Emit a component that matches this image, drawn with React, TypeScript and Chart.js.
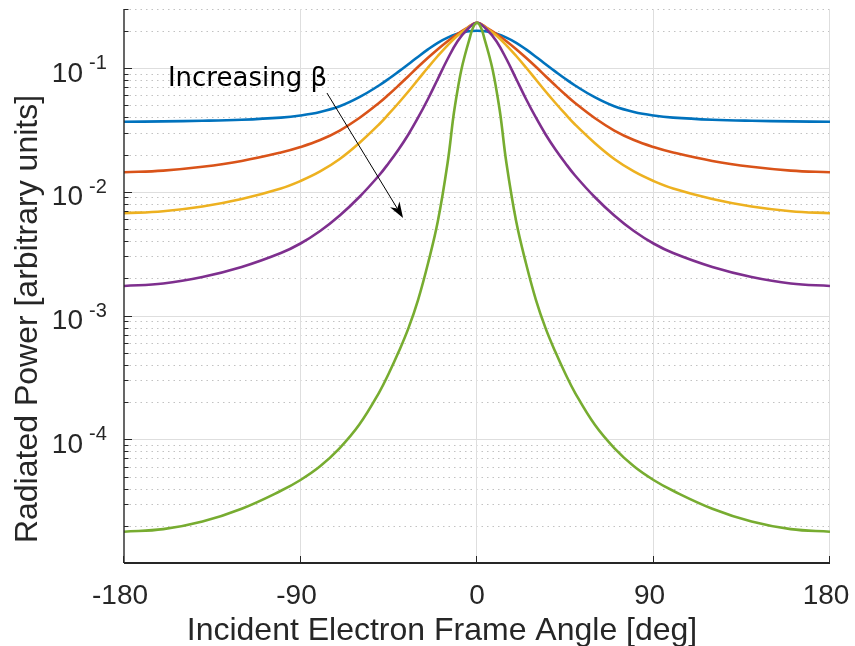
import { useEffect, useRef } from 'react';
import { Chart, registerables } from 'chart.js';

Chart.register(...registerables);

// Incident electron frame angle samples [deg]
const angles = [
  -180, -160, -140, -120, -100, -90, -80, -70, -60, -50, -45, -40, -35, -30, -25, -20, -15, -10, -5,
  0,
  5, 10, 15, 20, 25, 30, 35, 40, 45, 50, 60, 70, 80, 90, 100, 120, 140, 160, 180,
];
// the narrowest curve needs finer sampling around 0
const anglesFine = [
  -180, -160, -140, -120, -100, -90, -80, -70, -60, -50, -45, -40, -35, -30, -25, -20, -15, -12, -10, -8, -6, -4, -2,
  0,
  2, 4, 6, 8, 10, 12, 15, 20, 25, 30, 35, 40, 45, 50, 60, 70, 80, 90, 100, 120, 140, 160, 180,
];

// Radiated power [arbitrary units], one series per beta value (increasing beta)
const powerBeta1 = [
  0.03683, 0.03704, 0.03746, 0.03823, 0.03976, 0.04134, 0.04412, 0.04906, 0.0581, 0.07225, 0.08185, 0.09359, 0.1074, 0.1235, 0.1414, 0.16, 0.1762, 0.1891, 0.1978,
  0.2004,
  0.1978, 0.1891, 0.1762, 0.16, 0.1414, 0.1235, 0.1074, 0.09359, 0.08185, 0.07225, 0.0581, 0.04906, 0.04412, 0.04134, 0.03976, 0.03823, 0.03746, 0.03704, 0.03683,
];
const powerBeta2 = [
  0.01437, 0.01483, 0.01592, 0.01773, 0.02076, 0.02301, 0.02621, 0.03127, 0.03946, 0.05218, 0.06111, 0.07225, 0.08592, 0.1023, 0.121, 0.142, 0.1648, 0.1884, 0.2115,
  0.2325,
  0.2115, 0.1884, 0.1648, 0.142, 0.121, 0.1023, 0.08592, 0.07225, 0.06111, 0.05218, 0.03946, 0.03127, 0.02621, 0.02301, 0.02076, 0.01773, 0.01592, 0.01483, 0.01437,
];
const powerBeta3 = [
  0.006699, 0.006966, 0.007603, 0.008744, 0.01063, 0.01222, 0.01459, 0.0184, 0.02479, 0.03498, 0.04252, 0.05218, 0.06463, 0.0808, 0.101, 0.1251, 0.1527, 0.1822, 0.2095,
  0.2325,
  0.2095, 0.1822, 0.1527, 0.1251, 0.101, 0.0808, 0.06463, 0.05218, 0.04252, 0.03498, 0.02479, 0.0184, 0.01459, 0.01222, 0.01063, 0.008744, 0.007603, 0.006966, 0.006699,
];
const powerBeta4 = [
  0.001732, 0.001814, 0.002048, 0.002467, 0.003199, 0.00382, 0.004819, 0.006432, 0.009074, 0.01354, 0.01708, 0.02196, 0.02904, 0.03984, 0.05621, 0.08155, 0.1183, 0.1639, 0.2049,
  0.2325,
  0.2049, 0.1639, 0.1183, 0.08155, 0.05621, 0.03984, 0.02904, 0.02196, 0.01708, 0.01354, 0.009074, 0.006432, 0.004819, 0.00382, 0.003199, 0.002467, 0.002048, 0.001814, 0.001732,
];
const powerBeta5 = [
  1.79e-5, 1.879e-5, 2.165e-5, 2.747e-5, 3.833e-5, 4.686e-5, 6.045e-5, 8.484e-5, 1.314e-4, 2.374e-4, 3.399e-4, 5.064e-4, 7.866e-4, 1.347e-3, 2.633e-3, 5.741e-3, 0.01708, 0.04096, 0.06524, 0.09643, 0.1299, 0.1684, 0.2127,
  0.2325,
  0.2127, 0.1684, 0.1299, 0.09643, 0.06524, 0.04096, 0.01708, 5.741e-3, 2.633e-3, 1.347e-3, 7.866e-4, 5.064e-4, 3.399e-4, 2.374e-4, 1.314e-4, 8.484e-5, 6.045e-5, 4.686e-5, 3.833e-5, 2.747e-5, 2.165e-5, 1.879e-5, 1.79e-5,
];

const seriesColors = ['#0072BD', '#D95319', '#EDB120', '#7E2F8E', '#77AC30'];

const xTicks = [-180, -90, 0, 90, 180];
const xTickLabels = ['-180', '-90', '0', '90', '180'];
const yDecades = [-1, -2, -3, -4];

const xTitle = 'Incident Electron Frame Angle [deg]';
const yTitle = 'Radiated Power [arbitrary units]';
const noteText = 'Increasing β';
// note anchor and arrow ends in data units [deg, power]
const notePos = [-157.6, 0.0719];
const arrowFrom = [-76.5, 0.0628];
const arrowTo = [-37.7, 0.00614];

const Y_MIN = 1e-5;
const Y_MAX = 0.3;

const AXIS_COLOR = '#262626';
const TICK_FONT = '"Liberation Sans", Arial, Helvetica, sans-serif';

const axesPlugin = {
  id: 'matlabAxes',
  beforeDatasetsDraw(chart: any) {
    const { ctx, chartArea: a, scales } = chart;
    const x = scales.x;
    const y = scales.y;
    ctx.save();
    // minor dotted grid lines (log decades)
    ctx.strokeStyle = '#c2c2c2';
    ctx.lineWidth = 1;
    ctx.setLineDash([1.5, 4]);
    for (let e = -5; e <= -1; e++) {
      for (let k = 2; k <= 9; k++) {
        const v = k * Math.pow(10, e);
        if (v > Y_MAX * 1.0001) continue;
        const py = Math.round(y.getPixelForValue(v)) + 0.5;
        ctx.beginPath();
        ctx.moveTo(a.left, py);
        ctx.lineTo(a.right, py);
        ctx.stroke();
      }
    }
    // major solid grid lines
    ctx.setLineDash([]);
    ctx.strokeStyle = '#dedede';
    for (const e of yDecades) {
      const py = Math.round(y.getPixelForValue(Math.pow(10, e))) + 0.5;
      ctx.beginPath();
      ctx.moveTo(a.left, py);
      ctx.lineTo(a.right, py);
      ctx.stroke();
    }
    for (const t of xTicks) {
      if (t === xTicks[0]) continue;
      const px = Math.round(x.getPixelForValue(t)) - 0.5;
      ctx.beginPath();
      ctx.moveTo(px, a.top);
      ctx.lineTo(px, a.bottom);
      ctx.stroke();
    }
    ctx.restore();
  },
  afterDatasetsDraw(chart: any) {
    const { ctx, chartArea: a, scales } = chart;
    const x = scales.x;
    const y = scales.y;
    ctx.save();
    ctx.strokeStyle = AXIS_COLOR;
    ctx.fillStyle = AXIS_COLOR;

    // left and bottom axis lines
    ctx.lineWidth = 1.4;
    ctx.beginPath();
    ctx.moveTo(a.left, a.top);
    ctx.lineTo(a.left, a.bottom);
    ctx.stroke();
    ctx.lineWidth = 2;
    ctx.beginPath();
    ctx.moveTo(a.left, a.bottom);
    ctx.lineTo(a.right, a.bottom);
    ctx.stroke();

    // y ticks: major and minor, pointing inward
    ctx.lineWidth = 1;
    for (let e = -5; e <= -1; e++) {
      for (let k = 1; k <= 9; k++) {
        const v = k * Math.pow(10, e);
        if (v > Y_MAX * 1.0001) continue;
        const py = Math.round(y.getPixelForValue(v)) + 0.5;
        const len = k === 1 ? 8 : 4.5;
        ctx.beginPath();
        ctx.moveTo(a.left, py);
        ctx.lineTo(a.left + len, py);
        ctx.stroke();
      }
    }
    // x ticks
    for (const t of xTicks) {
      const px = Math.round(x.getPixelForValue(t)) - 0.5;
      ctx.beginPath();
      ctx.moveTo(px, a.bottom);
      ctx.lineTo(px, a.bottom - 7);
      ctx.stroke();
    }

    // y tick labels 10^e
    ctx.textBaseline = 'alphabetic';
    for (const e of yDecades) {
      const py = y.getPixelForValue(Math.pow(10, e));
      ctx.textAlign = 'right';
      ctx.font = `28px ${TICK_FONT}`;
      ctx.fillText('10', 83, py + 13.5);
      ctx.textAlign = 'left';
      ctx.font = `20px ${TICK_FONT}`;
      ctx.fillText(String(e), 89, py + 1);
    }

    // x tick labels
    ctx.textAlign = 'center';
    ctx.font = `28px ${TICK_FONT}`;
    xTicks.forEach((t, i) => {
      const shift = t === 0 ? 0 : -4;
      ctx.fillText(xTickLabels[i], x.getPixelForValue(t) + shift, 603.5);
    });

    // axis titles
    ctx.font = `32px ${TICK_FONT}`;
    ctx.fillText(xTitle, 442, 640);
    ctx.save();
    ctx.translate(37, 319);
    ctx.rotate(-Math.PI / 2);
    ctx.fillText(yTitle, 0, 0);
    ctx.restore();

    // annotation text and arrow
    ctx.fillStyle = '#000';
    ctx.strokeStyle = '#000';
    ctx.textAlign = 'left';
    ctx.font = '26px "DejaVu Sans", sans-serif';
    ctx.fillText(noteText, x.getPixelForValue(notePos[0]), y.getPixelForValue(notePos[1]));

    const sx = x.getPixelForValue(arrowFrom[0]);
    const sy = y.getPixelForValue(arrowFrom[1]);
    const tx = x.getPixelForValue(arrowTo[0]);
    const ty = y.getPixelForValue(arrowTo[1]);
    const ang = Math.atan2(ty - sy, tx - sx);
    const dx = Math.cos(ang);
    const dy = Math.sin(ang);
    const headLen = 16;
    const headW = 5.5;
    const notch = 11;
    ctx.lineWidth = 1;
    ctx.beginPath();
    ctx.moveTo(sx, sy);
    ctx.lineTo(tx - notch * dx, ty - notch * dy);
    ctx.stroke();
    ctx.beginPath();
    ctx.moveTo(tx, ty);
    ctx.lineTo(tx - headLen * dx - headW * dy, ty - headLen * dy + headW * dx);
    ctx.lineTo(tx - notch * dx, ty - notch * dy);
    ctx.lineTo(tx - headLen * dx + headW * dy, ty - headLen * dy - headW * dx);
    ctx.closePath();
    ctx.fill();

    ctx.restore();
  },
};

export default function App() {
  const canvasRef = useRef<HTMLCanvasElement | null>(null);

  useEffect(() => {
    const canvas = canvasRef.current;
    if (!canvas) return;
    const series = [powerBeta1, powerBeta2, powerBeta3, powerBeta4, powerBeta5];
    const datasets = series.map((vals, i) => {
      const xs = vals.length === anglesFine.length ? anglesFine : angles;
      return {
        label: `beta ${i + 1}`,
        data: xs.map((a, j) => ({ x: a, y: vals[j] })),
        borderColor: seriesColors[i],
        backgroundColor: seriesColors[i],
        borderWidth: 2.6,
        pointRadius: 0,
        fill: false,
        tension: 0.4,
        order: series.length - i,
      };
    });
    const chart = new Chart(canvas, {
      type: 'line',
      data: { datasets },
      options: {
        responsive: false,
        animation: false,
        layout: { padding: { left: 124, right: 25, top: 9, bottom: 83 } },
        plugins: {
          legend: { display: false },
          tooltip: { enabled: false },
        },
        scales: {
          x: { type: 'linear', min: -180, max: 180, display: false },
          y: { type: 'logarithmic', min: Y_MIN, max: Y_MAX, display: false },
        },
      },
      plugins: [axesPlugin],
    });
    return () => chart.destroy();
  }, []);

  return (
    <div style={{ position: 'absolute', left: 0, top: 0, width: 855, height: 646, background: '#fff' }}>
      <canvas ref={canvasRef} width={855} height={646} style={{ width: 855, height: 646, display: 'block' }} />
    </div>
  );
}
